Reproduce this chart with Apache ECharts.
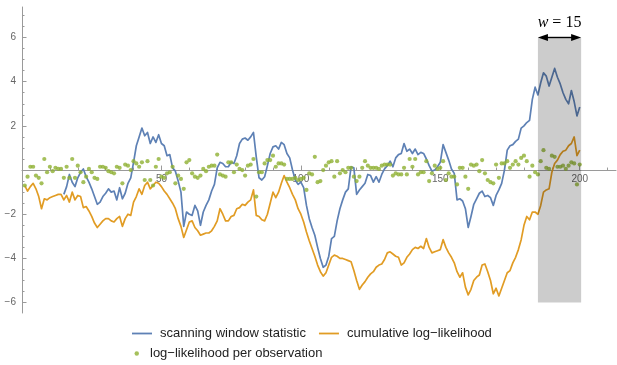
<!DOCTYPE html>
<html>
<head>
<meta charset="utf-8">
<script src="https://cdn.jsdelivr.net/npm/echarts@6/dist/echarts.min.js"></script>
<style>
  html, body { margin: 0; padding: 0; background: #ffffff; }
  #chart { width: 617px; height: 365px; }
</style>
</head>
<body>
<div id="chart"></div>
<script>
// Scanning window statistic, defined from observation 15 onward
const scanStart = 15;
const scanValues = [
  -1.1, -0.75, -0.2, -0.55, -0.75, -0.35, -0.1, 0.05, -0.3, -0.55,
  -0.85, -1.2, -1.55, -1.45, -1.2, -1.05, -0.85, -1.0, -0.95, -1.35,
  -0.8, -1.3, -1.05, -0.6, -0.35, 0.35, 1.1, 1.5, 1.9, 1.55,
  1.7, 1.2, 1.5, 1.25, 1.6, 1.2, 1.1, 0.65, 0.7, 0.1,
  -0.05, -0.5, -1.0, -2.55, -1.9, -2.0, -2.05, -1.6, -1.85, -2.5,
  -1.9, -1.6, -1.35, -0.95, -0.65, 0.1, 0.35, 0.3, 0.15, 0.15,
  0.35, 0.3, 0.65, 1.2, 1.4, 1.45, 1.35, 1.5, 1.7, 0.6,
  -0.35, -0.45, -0.3, 0.2, 0.75, 1.05, 1.1, 0.95, 1.25, 1.15,
  0.75, 0.55, 0.0, -0.45, -0.65, -0.55, -0.8, -1.6, -2.2, -2.6,
  -2.95, -3.5, -4.0, -4.4, -4.3, -3.9, -3.1, -3.0, -2.3, -1.75,
  -1.35, -1.0, -0.85, 0.15, 0.1, -1.1, -0.9, -0.75, -0.6, -0.2,
  -0.25, -0.55, -0.3, -0.55, -0.2, 0.05, 0.2, 0.4, 0.15, 0.55,
  0.7, 0.75, 1.2, 0.85, 0.95, 0.75, 0.95, 0.7, 0.8, 0.75,
  0.5, 0.2, -0.05, 0.0, 0.15, 0.35, 1.15, 0.8, 0.45, 0.05,
  -0.15, -1.35, -1.3, -1.4, -1.75, -2.6, -2.1, -1.55, -1.3, -1.05,
  -0.95, -1.2, -1.15, -1.25, -1.6, -1.15, -0.9, -0.6, 0.0, 0.9,
  1.1, 1.15, 1.3, 1.4, 1.9, 2.0, 2.15, 2.25, 3.2, 3.75,
  3.4, 3.95, 4.4, 4.25, 3.8, 4.2, 4.6, 4.2, 3.9, 3.5,
  3.2, 3.0, 3.6, 3.1, 2.45, 2.85
];

// Cumulative log-likelihood, observations 1..200
const cumValues = [
  -0.7, -0.95, -0.75, -0.6, -0.85, -1.2, -1.75, -1.3, -1.35, -1.25,
  -1.2, -1.15, -1.1, -1.1, -1.35, -1.15, -1.45, -1.0, -1.35, -1.15,
  -1.2, -1.7, -1.65, -1.85, -2.1, -2.4, -2.6, -2.45, -2.3, -2.2,
  -2.2, -2.3, -2.35, -2.2, -2.1, -2.55, -2.2, -2.0, -2.05, -1.45,
  -1.2, -0.85, -1.1, -0.7, -0.55, -0.85, -0.7, -0.55, -0.6, -0.75,
  -0.95, -1.1, -1.3, -1.5, -1.75, -2.2, -2.55, -3.05, -2.7, -2.35,
  -2.3, -2.6, -2.75, -2.95, -2.9, -2.85, -2.85, -2.75, -2.55, -2.3,
  -1.75, -2.0, -2.3, -2.3, -2.1, -2.05, -1.75, -1.7, -1.55, -1.6,
  -1.45, -1.35, -0.9, -2.05, -2.1, -2.25, -2.3, -2.0, -1.5, -1.0,
  -1.25, -1.0, -0.6, -0.25, -0.55, -0.8, -1.1, -1.35, -1.75, -2.0,
  -2.35, -2.8, -3.2, -3.55, -3.9, -4.3, -4.6, -4.8, -4.65, -4.3,
  -3.95, -3.85, -3.9, -4.0, -4.0, -4.05, -4.1, -4.15, -4.55, -5.0,
  -5.4, -5.2, -5.05, -4.85, -4.7, -4.6, -4.4, -4.3, -4.25, -4.05,
  -3.75, -3.7, -3.8, -3.9, -3.95, -4.3, -4.2, -3.95, -3.8, -3.6,
  -3.5, -3.55, -3.45, -3.55, -3.1, -3.5, -3.75, -3.7, -3.65, -3.6,
  -3.15, -3.5, -3.75, -3.95, -4.2, -4.6, -4.85, -4.65, -5.3, -5.65,
  -5.4, -5.0, -4.85, -4.75, -4.3, -4.25, -4.6, -5.0, -5.6, -5.35,
  -5.7, -5.35, -5.0, -4.65, -4.55, -4.2, -3.95, -3.6, -3.15, -2.5,
  -2.1, -2.25, -1.9, -1.9, -2.0, -1.6, -1.0, -0.9, -0.85, -0.1,
  0.3, 0.45, 0.7, 0.85, 0.9, 1.1, 1.2, 1.5, 0.65, 0.9
];

// Log-likelihood of each single observation, 1..200
const obsValues = [
  -0.7, -0.3, 0.15, 0.15, -0.25, -0.35, -0.6, 0.5, -0.1, 0.15,
  -0.05, 0.1, 0.05, 0.05, -0.35, 0.15, -0.35, 0.5, -0.35, 0.2,
  -0.1, -0.55, -0.3, 0.05, -0.1, -0.35, -0.4, 0.15, 0.15, 0.1,
  -0.05, -0.1, -0.15, 0.15, 0.1, -0.6, 0.25, 0.2, 0.0, 0.4,
  0.3, 0.15, 0.35, -0.45, 0.4, -0.45, -0.7, 0.15, 0.5, -0.3,
  -0.35, -0.15, -0.1, 0.15, -0.6, -0.25, -0.4, -0.85, 0.35, 0.45,
  -0.15, -0.3, -0.35, -0.25, 0.05, -0.05, 0.15, 0.2, 0.2, 0.7,
  -0.2, -0.25, -0.3, 0.35, 0.35, -0.1, 0.25, 0.05, 0.0, -0.25,
  0.2, 0.25, 0.5, -1.2, -0.1, -0.1, 0.3, 0.45, 0.45, 0.65,
  0.15, 0.3, 0.3, 0.25, -0.4, -0.4, -0.4, -0.35, -0.45, -0.4,
  -0.35, -0.9, -0.15, -0.2, 0.6, -0.55, -0.5, 0.0, 0.2, 0.35,
  0.4, -0.3, 0.4, -0.15, 0.0, -0.1, 0.1, 0.1, -0.3, -0.5,
  -0.3, 0.1, 0.4, 0.2, 0.1, 0.1, 0.1, 0.05, 0.2, 0.25,
  0.25, 0.25, -0.25, -0.15, -0.2, -0.2, 0.1, -0.2, 0.5, 0.15,
  0.5, -0.2, -0.1, -0.1, 0.4, -0.5, -0.15, 0.2, 0.05, 0.1,
  0.4, -0.45, -0.15, -0.3, -0.3, -0.65, 0.1, 0.1, -0.3, -0.85,
  0.25, 0.2, 0.25, -0.05, 0.45, -0.15, -0.45, -0.55, -0.6, 0.25,
  -0.35, 0.3, 0.3, 0.4, 0.1, 0.25, 0.4, 0.25, 0.55, 0.65,
  0.4, -0.3, 0.2, -0.1, -0.2, 0.4, 0.9, 0.1, 0.05, 0.65,
  0.6, 0.15, 0.15, 0.2, 0.05, 0.2, 0.35, 0.3, -0.65, 0.25
];

// Axis ticks
const xMajorTicks = [50, 100, 150, 200];
const xMinorTicks = [10, 20, 30, 40, 60, 70, 80, 90, 110, 120, 130, 140, 160, 170, 180, 190, 210];
const yMajorTicks = [-6, -4, -2, 2, 4, 6];
const yMinorTicks = [-6.5, -5.5, -5, -4.5, -3.5, -3, -2.5, -1.5, -1, -0.5,
                     0.5, 1, 1.5, 2.5, 3, 3.5, 4.5, 5, 5.5, 6.5, 7];

// Highlighted scanning window (last w = 15 observations)
const windowX = [185, 200.5];
const windowY = [-6, 6];

const names = {
  scan: 'scanning window statistic',
  cum: 'cumulative log\u2212likelihood',
  obs: 'log\u2212likelihood per observation'
};

const BLUE = '#5e81b5', ORANGE = '#e19c24', GREEN = '#8fb032';
const AXIS = '#9a9a9a', LABEL = '#666666';
const SANS = 'Liberation Sans, Arial, sans-serif';
const SERIF = 'Liberation Serif, Times New Roman, serif';

const X_MIN = 0, X_MAX = 213, Y_MIN = -6.47, Y_MAX = 7.38;

// Plot area (pixels)
const GRID = { left: 22, right: 1, top: 7, bottom: 52 };
const gridHeight = 365 - GRID.top - GRID.bottom;
// Horizontal axis crosses the vertical one at y = 0
const xAxisShift = -gridHeight * (0 - Y_MIN) / (Y_MAX - Y_MIN);

function minusFmt(v) {
  return v < 0 ? '\u2212' + Math.abs(v) : String(v);
}

function renderWindow(params, api) {
  const tl = api.coord([api.value(0), api.value(3)]);
  const br = api.coord([api.value(2), api.value(1)]);
  const x0 = tl[0], x1 = br[0], yTop = tl[1], yBot = br[1];
  const head = 10, half = 3.6;
  return {
    type: 'group',
    children: [
      { type: 'rect', shape: { x: x0, y: yTop, width: x1 - x0, height: yBot - yTop },
        style: { fill: 'rgba(0,0,0,0.2)' } },
      { type: 'line', shape: { x1: x0 + head - 1, y1: yTop, x2: x1 - head + 1, y2: yTop },
        style: { stroke: '#000', lineWidth: 1.4 } },
      { type: 'polygon', shape: { points: [[x0, yTop], [x0 + head, yTop - half], [x0 + head, yTop + half]] },
        style: { fill: '#000' } },
      { type: 'polygon', shape: { points: [[x1, yTop], [x1 - head, yTop - half], [x1 - head, yTop + half]] },
        style: { fill: '#000' } },
      { type: 'text', x: (x0 + x1) / 2, y: yTop - 15,
        style: {
          text: '{i|w}{n| = 15}',
          align: 'center', verticalAlign: 'middle',
          rich: {
            i: { fontFamily: SERIF, fontStyle: 'italic', fontSize: 16, fill: '#000' },
            n: { fontFamily: SERIF, fontSize: 16, fill: '#000' }
          }
        } }
    ]
  };
}

const chart = echarts.init(document.getElementById('chart'), null, { renderer: 'canvas' });

chart.setOption({
  animation: false,
  backgroundColor: '#ffffff',
  grid: { left: GRID.left, right: GRID.right, top: GRID.top, bottom: GRID.bottom, containLabel: false },
  legend: [
    {
      data: [{ name: names.scan, icon: 'rect' }, { name: names.cum, icon: 'rect' }],
      left: 132, top: 327, padding: 0,
      itemWidth: 20, itemHeight: 1.8, itemGap: 13,
      selectedMode: false,
      textStyle: { fontFamily: SANS, fontSize: 13, color: '#222', padding: [0, 0, 0, 3] }
    },
    {
      data: [{ name: names.obs, icon: 'circle' }],
      left: 134.5, top: 347, padding: 0,
      itemWidth: 4.5, itemHeight: 4.5,
      selectedMode: false,
      textStyle: { fontFamily: SANS, fontSize: 13, color: '#222', padding: [0, 0, 0, 6] }
    }
  ],
  xAxis: [
    {
      type: 'value', min: X_MIN, max: X_MAX, position: 'bottom', offset: xAxisShift,
      axisLine: { show: true, onZero: false, lineStyle: { color: AXIS, width: 1 } },
      axisTick: { show: true, inside: true, length: 4.5, customValues: xMajorTicks, lineStyle: { color: AXIS } },
      axisLabel: { show: true, customValues: xMajorTicks, margin: 4, fontFamily: SANS, fontSize: 10, color: LABEL },
      splitLine: { show: false }
    },
    {
      type: 'value', min: X_MIN, max: X_MAX, position: 'bottom', offset: xAxisShift,
      axisLine: { show: false, onZero: false },
      axisTick: { show: true, inside: true, length: 2.5, customValues: xMinorTicks, lineStyle: { color: AXIS } },
      axisLabel: { show: false },
      splitLine: { show: false }
    }
  ],
  yAxis: [
    {
      type: 'value', min: Y_MIN, max: Y_MAX, position: 'left',
      axisLine: { show: true, onZero: false, lineStyle: { color: AXIS, width: 1 } },
      axisTick: { show: true, inside: true, length: 4.5, customValues: yMajorTicks, lineStyle: { color: AXIS } },
      axisLabel: { show: true, customValues: yMajorTicks, margin: 6, fontFamily: SANS, fontSize: 10, color: LABEL, formatter: minusFmt },
      splitLine: { show: false }
    },
    {
      type: 'value', min: Y_MIN, max: Y_MAX, position: 'left',
      axisLine: { show: false, onZero: false },
      axisTick: { show: true, inside: true, length: 2.5, customValues: yMinorTicks, lineStyle: { color: AXIS } },
      axisLabel: { show: false },
      splitLine: { show: false }
    }
  ],
  series: [
    {
      name: names.scan, type: 'line', xAxisIndex: 0, yAxisIndex: 0,
      data: scanValues.map((v, i) => [scanStart + i, v]),
      symbol: 'none', z: 2,
      lineStyle: { color: BLUE, width: 1.7, join: 'round' },
      itemStyle: { color: BLUE }
    },
    {
      name: names.cum, type: 'line', xAxisIndex: 0, yAxisIndex: 0,
      data: cumValues.map((v, i) => [i + 1, v]),
      symbol: 'none', z: 3,
      lineStyle: { color: ORANGE, width: 1.7, join: 'round' },
      itemStyle: { color: ORANGE }
    },
    {
      name: names.obs, type: 'scatter', xAxisIndex: 0, yAxisIndex: 0,
      data: obsValues.map((v, i) => [i + 1, v]),
      symbol: 'circle', symbolSize: 4.2, z: 4,
      itemStyle: { color: GREEN }
    },
    {
      type: 'custom', xAxisIndex: 0, yAxisIndex: 0, z: 10, silent: true,
      renderItem: renderWindow,
      data: [[windowX[0], windowY[0], windowX[1], windowY[1]]]
    }
  ]
});
</script>
</body>
</html>
